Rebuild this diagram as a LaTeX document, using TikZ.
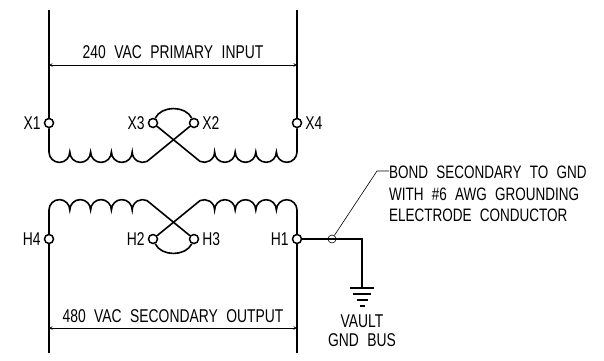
\documentclass[tikz,border=0pt]{standalone}
\usepackage{fontspec}
\setmainfont[FakeStretch=0.75,WordSpace={2.2,1,1}]{Liberation Sans}
\usepackage{tikz}
\usetikzlibrary{arrows, positioning}

\begin{document}
\begin{tikzpicture}[
    x=1pt, y=1pt,
    node distance=3pt,
    term/.style={circle, draw, fill=white, line width=1.5pt, minimum size=9pt, inner sep=0pt},
    tag/.style={inner sep=0pt, font=\fontsize{18.5}{21.5}\selectfont},
    wire/.style={line width=1.6pt},
    thinline/.style={line width=0.6pt},
    dim/.style={line width=0.6pt,<->,>=stealth}
]
    \useasboundingbox (0,0) rectangle (604,360);

    % Primary terminals
    \node[term] (xone) at (49,237) {};
    \node[term] (xthree) at (153,237) {};
    \node[term] (xtwo) at (194,237) {};
    \node[term] (xfour) at (297,237) {};
    \node[tag, left=of xone] (xonetag) {X1};
    \node[tag, left=of xthree] (xthreetag) {X3};
    \node[tag, right=of xtwo] (xtwotag) {X2};
    \node[tag, right=of xfour] (xfourtag) {X4};

    % Secondary terminals
    \node[term] (hfour) at (49,121) {};
    \node[term] (htwo) at (153,121) {};
    \node[term] (hthree) at (194,121) {};
    \node[term] (hone) at (297,121) {};
    \node[tag, left=of hfour] (hfourtag) {H4};
    \node[tag, left=of htwo] (htwotag) {H2};
    \node[tag, right=of hthree] (hthreetag) {H3};
    \node[tag, left=of hone] (honetag) {H1};

    % Rail ends
    \coordinate (railxl) at (49,350);
    \coordinate (railxr) at (297,350);
    \coordinate (railhl) at (49,7);
    \coordinate (railhr) at (297,7);
    \draw[wire] (railxl) -- (xone);
    \draw[wire] (railxr) -- (xfour);
    \draw[wire] (railhl) -- (hfour);
    \draw[wire] (railhr) -- (hone);

    % Dimension lines
    \coordinate (dimxl) at (49,295);
    \coordinate (dimxr) at (297,295);
    \coordinate (dimhl) at (49,32);
    \coordinate (dimhr) at (297,32);
    \draw[dim] (dimxl) -- (dimxr);
    \draw[dim] (dimhl) -- (dimhr);
    \node[tag] (primary) at (173,308) {240 VAC PRIMARY INPUT};
    \node[tag] (secondary) at (173,44) {480 VAC SECONDARY OUTPUT};

    % Primary coil
    \draw[wire] (xone) -- (49,208)
        \foreach \i in {1,...,4} {arc[start angle=180, end angle=360, radius=10.4]}
        arc[start angle=180, end angle=295, radius=10.4] -- (xtwo);
    \draw[wire] (xfour) -- (297,208)
        \foreach \i in {1,...,4} {arc[start angle=0, end angle=-180, radius=10.3]}
        arc[start angle=0, end angle=-115, radius=10.3] -- (xthree);
    \draw[wire] (xthree) to[out=65, in=115] (xtwo);

    % Secondary coil
    \draw[wire] (hfour) -- (49,150)
        \foreach \i in {1,...,4} {arc[start angle=180, end angle=0, radius=10.4]}
        arc[start angle=180, end angle=65, radius=10.4] -- (hthree);
    \draw[wire] (hone) -- (297,150)
        \foreach \i in {1,...,4} {arc[start angle=0, end angle=180, radius=10.3]}
        arc[start angle=0, end angle=115, radius=10.3] -- (htwo);
    \draw[wire] (htwo) to[out=-65, in=-115] (hthree);

    % Ground
    \coordinate (gndtop) at (362,72);
    \draw[wire] (hone) -| (gndtop);
    \foreach \y/\w in {72/12, 66/9, 60/5.5, 54/2.5}
        \draw[wire] (362-\w,\y) -- (362+\w,\y);
    \node[tag] (vault) at (362,39) {VAULT};
    \node[tag] (gndbus) at (362,20) {GND BUS};

    % Bond note
    \node[circle, draw, thinline, minimum size=8pt, inner sep=0pt] (bond) at (332,121) {};
    \node[tag, font=\fontsize{18}{21.5}\selectfont, anchor=north west, align=left] (note) at (389,194) {BOND SECONDARY TO GND\\WITH \#6 AWG GROUNDING\\ELECTRODE CONDUCTOR};
    \coordinate (bend) at (377,189);
    \draw[thinline] (bond) -- (bend) -- (bend -| note.west);
\end{tikzpicture}
\end{document}
